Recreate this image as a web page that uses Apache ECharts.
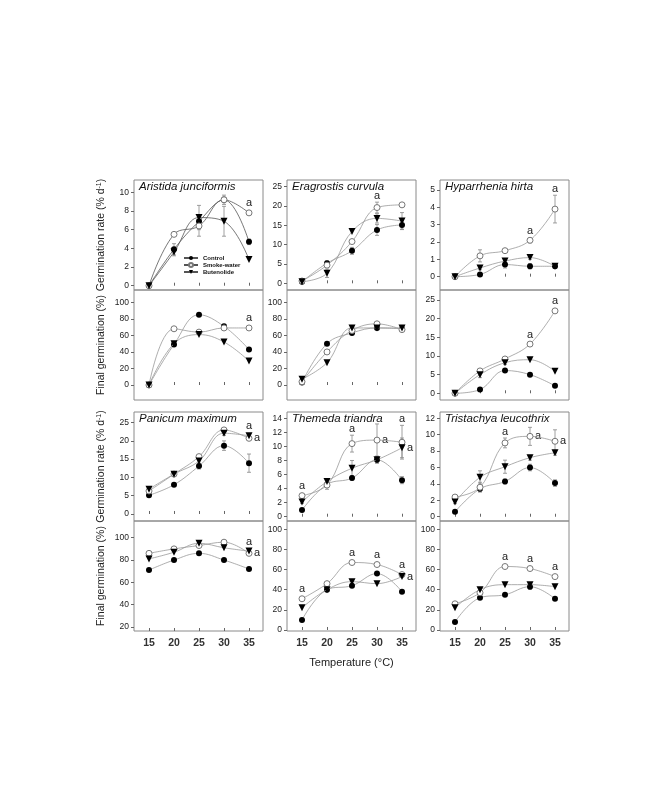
<!DOCTYPE html>
<html>
<head>
<meta charset="utf-8">
<script src="https://cdn.jsdelivr.net/npm/echarts@6/dist/echarts.min.js"></script>
<style>
html, body { margin: 0; padding: 0; background: #fff; }
#chart { width: 672px; height: 807px; }
</style>
</head>
<body>
<div id="chart"></div>
<script>
var temps = [15, 20, 25, 30, 35];
var names = ['Control', 'Smoke-water', 'Butenolide'];
var noErr = [0, 0, 0, 0, 0];

var ticks10 = [0, 2, 4, 6, 8, 10];
var ticks25 = [0, 5, 10, 15, 20, 25];
var ticks5 = [0, 1, 2, 3, 4, 5];
var ticks100 = [0, 20, 40, 60, 80, 100];
var ticks20to100 = [20, 40, 60, 80, 100];
var ticks14 = [0, 2, 4, 6, 8, 10, 12, 14];
var ticks12 = [0, 2, 4, 6, 8, 10, 12];

// Aristida junciformis, rate
var ajRateCtl = [0, 3.9, 6.9, 9.2, 4.7];
var ajRateSmk = [0, 5.5, 6.4, 9.2, 7.8];
var ajRateBut = [0, 3.6, 7.3, 6.9, 2.8];
var ajRateErrCtl = [0, 0.6, 0.5, 0.3, 0.3];
var ajRateErrSmk = [0, 0.2, 1.1, 0.5, 0];
var ajRateErrBut = [0, 0.4, 1.3, 1.6, 0];
var ajRateSig = [[1, 4, 1]];

// Eragrostis curvula, rate
var ecRateCtl = [0.4, 5.2, 8.4, 13.8, 15.1];
var ecRateSmk = [0.6, 4.7, 10.8, 19.6, 20.3];
var ecRateBut = [0.4, 2.6, 13.4, 16.8, 16.1];
var ecRateErrCtl = [0.3, 0.6, 0.9, 1.4, 1.1];
var ecRateErrSmk = [0, 0.6, 0, 1.4, 0];
var ecRateErrBut = [0.3, 1.1, 0, 1.2, 2.2];
var ecRateSig = [[1, 3, 1]];

// Hyparrhenia hirta, rate
var hhRateCtl = [0, 0.13, 0.7, 0.6, 0.6];
var hhRateSmk = [0, 1.2, 1.5, 2.1, 3.9];
var hhRateBut = [0, 0.5, 0.9, 1.1, 0.6];
var hhRateErrCtl = [0, 0.1, 0.2, 0.15, 0.1];
var hhRateErrSmk = [0, 0.35, 0.1, 0.15, 0.8];
var hhRateErrBut = [0, 0.1, 0.15, 0.1, 0.1];
var hhRateSig = [[1, 3, 1], [1, 4, 1]];

// final germination, first species row
var ajFinCtl = [0, 49, 85, 71, 43];
var ajFinSmk = [0, 68, 64, 69, 69];
var ajFinBut = [0, 50, 61, 52, 29];
var ajFinSig = [[1, 4, 1]];

var ecFinCtl = [3, 50, 63, 69, 68];
var ecFinSmk = [4, 40, 66, 74, 67];
var ecFinBut = [7, 27, 69, 69, 69];

var hhFinCtl = [0, 1.0, 6.1, 5.0, 2.0];
var hhFinSmk = [0, 6.0, 9.2, 13.2, 22.1];
var hhFinBut = [0, 5.0, 8.2, 9.0, 5.9];
var hhFinErrBut = [0, 0.8, 0.5, 0, 0];
var hhFinSig = [[1, 3, 1], [1, 4, 1]];

// Panicum maximum, rate
var pmRateCtl = [5.1, 8.0, 13.1, 18.7, 13.9];
var pmRateSmk = [6.3, 10.9, 15.7, 23.0, 20.7];
var pmRateBut = [6.8, 10.9, 14.5, 22.1, 21.4];
var pmRateErrCtl = [0.4, 0.4, 0.8, 1.3, 2.5];
var pmRateErrSmk = [0, 0.4, 0.4, 0.5, 0.5];
var pmRateErrBut = [0.4, 0.5, 1.0, 0.6, 0.5];
var pmRateSig = [[2, 4, 1], [1, 4, 2]];

// Themeda triandra, rate
var ttRateCtl = [0.95, 4.6, 5.5, 8.1, 5.2];
var ttRateSmk = [3.0, 4.5, 10.4, 10.9, 10.6];
var ttRateBut = [2.1, 5.0, 6.9, 8.1, 9.8];
var ttRateErrCtl = [0.1, 0.3, 0.3, 0.5, 0.5];
var ttRateErrSmk = [0.3, 0.6, 1.2, 2.3, 2.4];
var ttRateErrBut = [0.2, 0.3, 1.1, 0.4, 1.4];
var ttRateSig = [[1, 0, 1], [1, 2, 1], [1, 3, 2], [1, 4, 1], [2, 4, 2]];

// Tristachya leucothrix, rate
var tlRateCtl = [0.6, 3.4, 4.3, 6.0, 4.1];
var tlRateSmk = [2.4, 3.6, 9.0, 9.8, 9.2];
var tlRateBut = [1.8, 4.8, 6.1, 7.2, 7.8];
var tlRateErrCtl = [0.1, 0.3, 0.3, 0.4, 0.4];
var tlRateErrSmk = [0.2, 0.6, 0.6, 1.1, 1.4];
var tlRateErrBut = [0.2, 0.8, 0.8, 0.3, 0.3];
var tlRateSig = [[1, 2, 1], [1, 3, 2], [1, 4, 2]];

// final germination, second species row
var pmFinCtl = [71, 80, 86, 80, 72];
var pmFinSmk = [86, 90, 93, 96, 86];
var pmFinBut = [81, 87, 95, 91, 88];
var pmFinSig = [[2, 4, 1], [1, 4, 2]];

var ttFinCtl = [10, 40, 44, 56, 38];
var ttFinSmk = [31, 46, 67, 65, 55];
var ttFinBut = [22, 40, 48, 46, 53];
var ttFinErrBut = [0, 0, 2, 0, 0];
var ttFinSig = [[1, 0, 1], [1, 2, 1], [1, 3, 1], [1, 4, 1], [2, 4, 2]];

var tlFinCtl = [8, 32, 35, 43, 31];
var tlFinSmk = [26, 37, 63, 61, 53];
var tlFinBut = [22, 40, 45, 45, 43];
var tlFinErrCtl = [0, 0, 0, 2.6, 0];
var tlFinSig = [[1, 2, 1], [1, 3, 1], [1, 4, 1]];

var colLeft = [134, 287, 440];
var rowTop = [180, 290, 412, 521];
var rowHeight = [110, 110, 109, 110];
var font = 'Arial, "Liberation Sans", sans-serif';

var panels = [
    {row: 0, col: 0, title: 'Aristida junciformis', vals: [ajRateCtl, ajRateSmk, ajRateBut], errs: [ajRateErrCtl, ajRateErrSmk, ajRateErrBut], sig: ajRateSig, ticks: ticks10, min: -0.46, max: 11.32, line: '#555'},
    {row: 0, col: 1, title: 'Eragrostis curvula', vals: [ecRateCtl, ecRateSmk, ecRateBut], errs: [ecRateErrCtl, ecRateErrSmk, ecRateErrBut], sig: ecRateSig, ticks: ticks25, min: -1.73, max: 26.73},
    {row: 0, col: 2, title: 'Hyparrhenia hirta', vals: [hhRateCtl, hhRateSmk, hhRateBut], errs: [hhRateErrCtl, hhRateErrSmk, hhRateErrBut], sig: hhRateSig, ticks: ticks5, min: -0.77, max: 5.58},
    {row: 1, col: 0, vals: [ajFinCtl, ajFinSmk, ajFinBut], errs: [noErr, noErr, noErr], sig: ajFinSig, ticks: ticks100, min: -18.1, max: 114.9},
    {row: 1, col: 1, vals: [ecFinCtl, ecFinSmk, ecFinBut], errs: [noErr, noErr, noErr], sig: [], ticks: ticks100, min: -18.1, max: 114.9},
    {row: 1, col: 2, vals: [hhFinCtl, hhFinSmk, hhFinBut], errs: [noErr, noErr, hhFinErrBut], sig: hhFinSig, ticks: ticks25, min: -1.8, max: 27.7},
    {row: 2, col: 0, title: 'Panicum maximum', vals: [pmRateCtl, pmRateSmk, pmRateBut], errs: [pmRateErrCtl, pmRateErrSmk, pmRateErrBut], sig: pmRateSig, ticks: ticks25, min: -1.92, max: 27.9},
    {row: 2, col: 1, title: 'Themeda triandra', vals: [ttRateCtl, ttRateSmk, ttRateBut], errs: [ttRateErrCtl, ttRateErrSmk, ttRateErrBut], sig: ttRateSig, ticks: ticks14, min: -0.61, max: 14.9},
    {row: 2, col: 2, title: 'Tristachya leucothrix', vals: [tlRateCtl, tlRateSmk, tlRateBut], errs: [tlRateErrCtl, tlRateErrSmk, tlRateErrBut], sig: tlRateSig, ticks: ticks12, min: -0.52, max: 12.77},
    {row: 3, col: 0, vals: [pmFinCtl, pmFinSmk, pmFinBut], errs: [noErr, noErr, noErr], sig: pmFinSig, ticks: ticks20to100, min: 16.4, max: 115},
    {row: 3, col: 1, vals: [ttFinCtl, ttFinSmk, ttFinBut], errs: [noErr, noErr, ttFinErrBut], sig: ttFinSig, ticks: ticks100, min: -1, max: 108.2},
    {row: 3, col: 2, vals: [tlFinCtl, tlFinSmk, tlFinBut], errs: [tlFinErrCtl, noErr, noErr], sig: tlFinSig, ticks: ticks100, min: -1, max: 108.2}
];

var markers = [
    {symbol: 'circle', symbolSize: 6, symbolRotate: 0, itemStyle: {color: '#000'}},
    {symbol: 'circle', symbolSize: 6, symbolRotate: 0, itemStyle: {color: '#fff', borderColor: '#777', borderWidth: 1}},
    {symbol: 'triangle', symbolSize: 7, symbolRotate: 180, itemStyle: {color: '#000'}}
];

// error bars and the "a" letters
function renderBars(params, api) {
    var x = api.value(0), y = api.value(1), e = api.value(2), s = api.value(3);
    var p = api.coord([x, y]);
    var kids = [];
    var topY = p[1] - 4;
    if (e > 0) {
        var hi = api.coord([x, y + e]), lo = api.coord([x, y - e]);
        kids.push({type: 'line', shape: {x1: p[0], y1: hi[1], x2: p[0], y2: lo[1]}, style: {stroke: '#888', lineWidth: 0.8}});
        kids.push({type: 'line', shape: {x1: p[0] - 2, y1: hi[1], x2: p[0] + 2, y2: hi[1]}, style: {stroke: '#888', lineWidth: 0.8}});
        kids.push({type: 'line', shape: {x1: p[0] - 2, y1: lo[1], x2: p[0] + 2, y2: lo[1]}, style: {stroke: '#888', lineWidth: 0.8}});
        topY = Math.min(topY, hi[1] - 1);
    }
    if (s === 1) {
        kids.push({type: 'text', x: p[0], y: topY, z2: 10, style: {text: 'a', fill: '#222', fontSize: 11, fontFamily: font, align: 'center', verticalAlign: 'bottom'}});
    } else if (s === 2) {
        kids.push({type: 'text', x: p[0] + 5, y: p[1], z2: 10, style: {text: 'a', fill: '#222', fontSize: 11, fontFamily: font, align: 'left', verticalAlign: 'middle'}});
    }
    return {type: 'group', children: kids};
}

var grids = [], xAxes = [], yAxes = [], series = [], titles = [];

panels.forEach(function(p, i) {
    var left = colLeft[p.col], top = rowTop[p.row];
    grids.push({left: left, top: top, width: 129, height: rowHeight[p.row], show: true, borderColor: '#8a8a8a', borderWidth: 1, outerBoundsMode: 'none'});

    var xAxis = {
        type: 'value', gridIndex: i, min: 12, max: 37.8,
        axisLine: {show: false}, splitLine: {show: false},
        axisTick: {show: true, inside: true, length: 3, customValues: temps, lineStyle: {color: '#666'}},
        axisLabel: {show: p.row === 3, customValues: temps, fontSize: 10.5, fontWeight: 'bold', color: '#333', margin: 7, fontFamily: font}
    };
    if (p.row === 3 && p.col === 1) {
        xAxis.name = 'Temperature (\u00B0C)';
        xAxis.nameLocation = 'middle';
        xAxis.nameGap = 26;
        xAxis.nameTextStyle = {fontSize: 11, color: '#222', fontFamily: font};
    }
    xAxes.push(xAxis);

    var yAxis = {
        type: 'value', gridIndex: i, min: p.min, max: p.max,
        axisLine: {show: false}, splitLine: {show: false},
        axisTick: {show: true, length: 3, customValues: p.ticks, lineStyle: {color: '#666'}},
        axisLabel: {customValues: p.ticks, fontSize: 8.5, color: '#222', margin: 5, fontFamily: font}
    };
    if (p.col === 0) {
        yAxis.name = (p.row % 2 === 0) ? 'Germination rate (% d{sup|-1})' : 'Final germination (%)';
        yAxis.nameLocation = 'middle';
        yAxis.nameGap = 27;
        yAxis.nameTextStyle = {fontSize: 10.5, color: '#222', fontFamily: font, rich: {sup: {fontSize: 7, verticalAlign: 'top', fontFamily: font, color: '#222'}}};
    }
    yAxes.push(yAxis);

    if (p.title) {
        titles.push({text: p.title, left: left + 5, top: top + 1, padding: 0,
            textStyle: {fontSize: 11.5, fontStyle: 'italic', fontWeight: 'normal', color: '#111', fontFamily: font}});
    }

    var rows = [];
    for (var k = 0; k < 3; k++) {
        var m = markers[k];
        series.push({
            type: 'line', name: names[k], xAxisIndex: i, yAxisIndex: i,
            data: temps.map(function(t, j) { return [t, p.vals[k][j]]; }),
            smooth: 0.4, symbol: m.symbol, symbolSize: m.symbolSize, symbolRotate: m.symbolRotate,
            itemStyle: m.itemStyle, lineStyle: {color: p.line || '#999', width: 0.8},
            z: 3 + k, silent: true, emphasis: {disabled: true}
        });
        temps.forEach(function(t, j) {
            var s = 0;
            p.sig.forEach(function(g) { if (g[0] === k && g[1] === j) s = g[2]; });
            if (p.errs[k][j] > 0 || s > 0) rows.push([t, p.vals[k][j], p.errs[k][j], s]);
        });
    }
    series.push({type: 'custom', name: 'err', xAxisIndex: i, yAxisIndex: i, renderItem: renderBars, data: rows, z: 2, silent: true});
});

var chart = echarts.init(document.getElementById('chart'));
chart.setOption({
    animation: false,
    backgroundColor: '#fff',
    title: titles,
    legend: {
        data: names, left: 183, top: 255, orient: 'vertical', itemGap: 1, itemWidth: 14, itemHeight: 5,
        padding: 0, selectedMode: false,
        textStyle: {fontSize: 6, fontWeight: 'bold', color: '#111', fontFamily: font}
    },
    grid: grids,
    xAxis: xAxes,
    yAxis: yAxes,
    series: series
});
</script>
</body>
</html>
